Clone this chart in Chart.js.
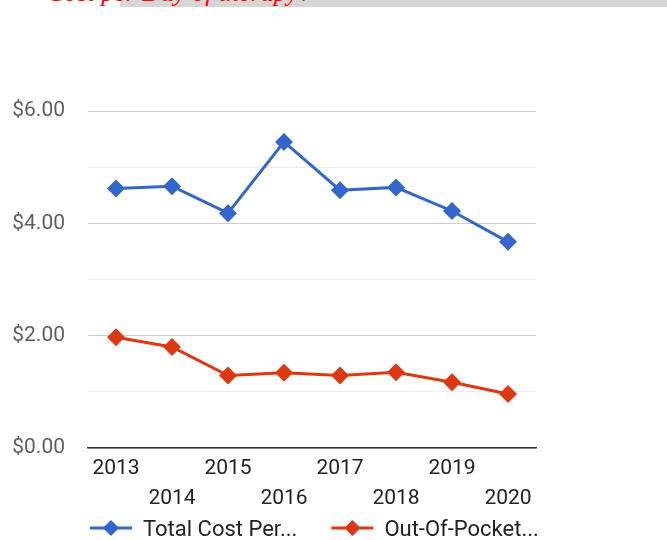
<!DOCTYPE html>
<html>
<head>
<meta charset="utf-8">
<script src="https://cdn.jsdelivr.net/npm/chart.js@4.4.1/dist/chart.umd.min.js"></script>
<style>
  html, body { margin: 0; padding: 0; background: #fff; }
  #wrap { position: relative; width: 667px; height: 540px; overflow: hidden; }
  #bar { position: absolute; left: 120px; top: 0; width: 547px; height: 7px; background: #d6d6d6; }
  #head { position: absolute; left: 47px; top: -20px; font: italic 26px/26px "Liberation Serif", serif; color: #ff0000; white-space: nowrap; }
  #chart { position: absolute; left: 0; top: 0; }
</style>
</head>
<body>
<div id="wrap">
  <div id="bar"></div>
  <div id="head">Cost per Day of therapy?</div>
  <canvas id="chart" width="667" height="540"></canvas>
</div>
<script>
var years = ['2013', '2014', '2015', '2016', '2017', '2018', '2019', '2020'];
var totalCost = [4.62, 4.66, 4.18, 5.45, 4.59, 4.64, 4.22, 3.67];
var outOfPocket = [1.97, 1.80, 1.29, 1.34, 1.29, 1.35, 1.17, 0.96];
var seriesNames = ['Total Cost Per...', 'Out-Of-Pocket...'];
var seriesColors = ['#3366cc', '#dc3912'];

function lineSet(label, values, color) {
	return {
		label: label,
		data: values,
		borderColor: color,
		backgroundColor: color,
		borderWidth: 3,
		tension: 0,
		pointStyle: 'rectRot',
		pointRadius: 9,
		pointHoverRadius: 9,
		pointBorderWidth: 0,
		pointBackgroundColor: color
	};
}

// legend under the axis: short line with a diamond, then the name
var bottomLegend = {
	id: 'bottomLegend',
	afterDraw: function(chart) {
		var ctx = chart.ctx;
		var x = chart.chartArea.left + 2;
		var y = 528;
		ctx.save();
		ctx.font = '22px Roboto';
		ctx.textBaseline = 'alphabetic';
		chart.data.datasets.forEach(function(ds) {
			ctx.strokeStyle = ds.borderColor;
			ctx.lineWidth = 3;
			ctx.beginPath();
			ctx.moveTo(x, y);
			ctx.lineTo(x + 42, y);
			ctx.stroke();
			ctx.fillStyle = ds.borderColor;
			ctx.beginPath();
			ctx.moveTo(x + 21, y - 8);
			ctx.lineTo(x + 29, y);
			ctx.lineTo(x + 21, y + 8);
			ctx.lineTo(x + 13, y);
			ctx.closePath();
			ctx.fill();
			ctx.fillStyle = '#222222';
			ctx.fillText(ds.label, x + 53, y + 8);
			x += 53 + ctx.measureText(ds.label).width + 34;
		});
		ctx.restore();
	}
};

var chart = new Chart(document.getElementById('chart'), {
	type: 'line',
	data: {
		labels: years,
		datasets: [
			lineSet(seriesNames[0], totalCost, seriesColors[0]),
			lineSet(seriesNames[1], outOfPocket, seriesColors[1])
		]
	},
	options: {
		responsive: false,
		animation: false,
		layout: {
			padding: {left: 0, right: 131, top: 111, bottom: 26}
		},
		scales: {
			x: {
				offset: true,
				grid: {display: false, drawTicks: false},
				border: {display: true, color: '#333333', width: 1.5},
				afterFit: function(scale) { scale.height = 66; },
				ticks: {
					autoSkip: false,
					maxRotation: 0,
					padding: 6,
					color: '#222222',
					font: {family: 'Roboto', size: 21, lineHeight: '30px'},
					callback: function(value, index) {
						var label = this.getLabelForValue(value);
						return index % 2 === 0 ? [label, ''] : ['', label];
					}
				}
			},
			y: {
				min: 0,
				max: 6,
				border: {display: false},
				afterFit: function(scale) { scale.width = 88; },
				grid: {
					drawTicks: false,
					color: function(ctx) {
						return ctx.tick && ctx.tick.value % 2 === 0 ? '#cccccc' : '#ebebeb';
					}
				},
				ticks: {
					stepSize: 1,
					padding: 23,
					color: '#5f5f5f',
					font: {family: 'Roboto', size: 21},
					callback: function(value) {
						return value % 2 === 0 ? '$' + value.toFixed(2) : '';
					}
				}
			}
		},
		plugins: {
			tooltip: {enabled: false},
			legend: {display: false}
		}
	},
	plugins: [bottomLegend]
});
</script>
</body>
</html>
